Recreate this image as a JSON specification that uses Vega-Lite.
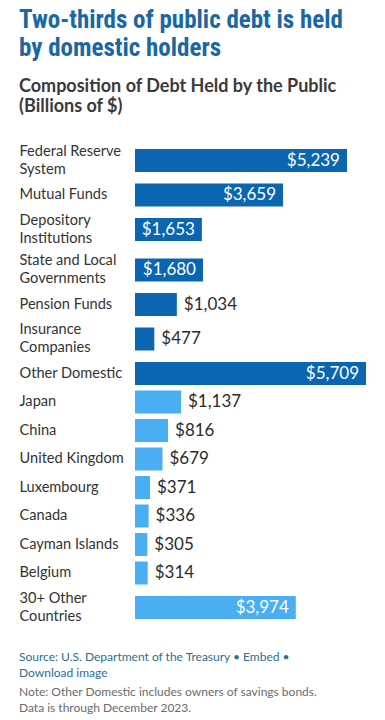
{
  "$schema": "https://vega.github.io/schema/vega-lite/v6.json",
  "padding": {"left": 19, "top": 8, "right": 0, "bottom": 0},
  "autosize": {"type": "pad"},
  "background": "white",
  "bounds": "flush",
  "spacing": 5.5,
  "title": {
    "text": ["Two-thirds of public debt is held", "by domestic holders"],
    "subtitle": ["Composition of Debt Held by the Public", "(Billions of $)"],
    "anchor": "start",
    "font": "Liberation Sans Narrow, Roboto Condensed, sans-serif",
    "fontSize": 25,
    "fontWeight": "bold",
    "lineHeight": 28,
    "color": "#1a67a3",
    "subtitleFont": "Lato",
    "subtitleFontSize": 18,
    "subtitleFontWeight": "bold",
    "subtitleColor": "#3a3a3a",
    "subtitleLineHeight": 20,
    "subtitlePadding": 17,
    "offset": 27
  },
  "data": {
    "values": [
      {"holder": "Federal Reserve System", "value": 5239, "group": "Domestic"},
      {"holder": "Mutual Funds", "value": 3659, "group": "Domestic"},
      {"holder": "Depository Institutions", "value": 1653, "group": "Domestic"},
      {"holder": "State and Local Governments", "value": 1680, "group": "Domestic"},
      {"holder": "Pension Funds", "value": 1034, "group": "Domestic"},
      {"holder": "Insurance Companies", "value": 477, "group": "Domestic"},
      {"holder": "Other Domestic", "value": 5709, "group": "Domestic"},
      {"holder": "Japan", "value": 1137, "group": "Foreign"},
      {"holder": "China", "value": 816, "group": "Foreign"},
      {"holder": "United Kingdom", "value": 679, "group": "Foreign"},
      {"holder": "Luxembourg", "value": 371, "group": "Foreign"},
      {"holder": "Canada", "value": 336, "group": "Foreign"},
      {"holder": "Cayman Islands", "value": 305, "group": "Foreign"},
      {"holder": "Belgium", "value": 314, "group": "Foreign"},
      {"holder": "30+ Other Countries", "value": 3974, "group": "Foreign"}
    ]
  },
  "resolve": {"scale": {"x": "independent", "y": "independent", "color": "independent"}},
  "vconcat": [
    {"width": 231, "height": 35, "transform": [{"filter": "datum.holder === 'Federal Reserve System'"}],
     "encoding": {"y": {"field": "holder", "type": "nominal", "scale": {"paddingInner": 0, "paddingOuter": 0}, "axis": {"labelOffset": -9, "labelExpr": "length(datum.label) > 16 ? [substring(datum.label, 0, lastindexof(datum.label, ' ')), substring(datum.label, lastindexof(datum.label, ' ') + 1)] : datum.label"}},
                  "x": {"field": "value", "type": "quantitative", "scale": {"domain": [0, 5709]}, "axis": null}},
     "layer": [
       {"mark": {"type": "bar", "height": 23}, "encoding": {"color": {"field": "group", "type": "nominal", "scale": {"domain": ["Domestic", "Foreign"], "range": ["#0a66b0", "#4aaff2"]}, "legend": null}}},
       {"transform": [{"filter": "datum.value >= 1500"}], "mark": {"type": "text", "style": "inlab", "color": "white"}, "encoding": {"text": {"field": "value", "type": "quantitative", "format": "$,.0f"}}},
       {"transform": [{"filter": "datum.value < 1500"}], "mark": {"type": "text", "style": "outlab", "color": "#2b2b2b"}, "encoding": {"text": {"field": "value", "type": "quantitative", "format": "$,.0f"}}}
     ]},
    {"width": 231, "height": 23, "transform": [{"filter": "datum.holder === 'Mutual Funds'"}],
     "encoding": {"y": {"field": "holder", "type": "nominal", "scale": {"paddingInner": 0, "paddingOuter": 0}, "axis": {"labelExpr": "length(datum.label) > 16 ? [substring(datum.label, 0, lastindexof(datum.label, ' ')), substring(datum.label, lastindexof(datum.label, ' ') + 1)] : datum.label"}},
                  "x": {"field": "value", "type": "quantitative", "scale": {"domain": [0, 5709]}, "axis": null}},
     "layer": [
       {"mark": {"type": "bar", "height": 23}, "encoding": {"color": {"field": "group", "type": "nominal", "scale": {"domain": ["Domestic", "Foreign"], "range": ["#0a66b0", "#4aaff2"]}, "legend": null}}},
       {"transform": [{"filter": "datum.value >= 1500"}], "mark": {"type": "text", "style": "inlab", "color": "white"}, "encoding": {"text": {"field": "value", "type": "quantitative", "format": "$,.0f"}}},
       {"transform": [{"filter": "datum.value < 1500"}], "mark": {"type": "text", "style": "outlab", "color": "#2b2b2b"}, "encoding": {"text": {"field": "value", "type": "quantitative", "format": "$,.0f"}}}
     ]},
    {"width": 231, "height": 35, "transform": [{"filter": "datum.holder === 'Depository Institutions'"}],
     "encoding": {"y": {"field": "holder", "type": "nominal", "scale": {"paddingInner": 0, "paddingOuter": 0}, "axis": {"labelOffset": -9, "labelExpr": "length(datum.label) > 16 ? [substring(datum.label, 0, lastindexof(datum.label, ' ')), substring(datum.label, lastindexof(datum.label, ' ') + 1)] : datum.label"}},
                  "x": {"field": "value", "type": "quantitative", "scale": {"domain": [0, 5709]}, "axis": null}},
     "layer": [
       {"mark": {"type": "bar", "height": 23}, "encoding": {"color": {"field": "group", "type": "nominal", "scale": {"domain": ["Domestic", "Foreign"], "range": ["#0a66b0", "#4aaff2"]}, "legend": null}}},
       {"transform": [{"filter": "datum.value >= 1500"}], "mark": {"type": "text", "style": "inlab", "color": "white"}, "encoding": {"text": {"field": "value", "type": "quantitative", "format": "$,.0f"}}},
       {"transform": [{"filter": "datum.value < 1500"}], "mark": {"type": "text", "style": "outlab", "color": "#2b2b2b"}, "encoding": {"text": {"field": "value", "type": "quantitative", "format": "$,.0f"}}}
     ]},
    {"width": 231, "height": 35, "transform": [{"filter": "datum.holder === 'State and Local Governments'"}],
     "encoding": {"y": {"field": "holder", "type": "nominal", "scale": {"paddingInner": 0, "paddingOuter": 0}, "axis": {"labelOffset": -9, "labelExpr": "length(datum.label) > 16 ? [substring(datum.label, 0, lastindexof(datum.label, ' ')), substring(datum.label, lastindexof(datum.label, ' ') + 1)] : datum.label"}},
                  "x": {"field": "value", "type": "quantitative", "scale": {"domain": [0, 5709]}, "axis": null}},
     "layer": [
       {"mark": {"type": "bar", "height": 23}, "encoding": {"color": {"field": "group", "type": "nominal", "scale": {"domain": ["Domestic", "Foreign"], "range": ["#0a66b0", "#4aaff2"]}, "legend": null}}},
       {"transform": [{"filter": "datum.value >= 1500"}], "mark": {"type": "text", "style": "inlab", "color": "white"}, "encoding": {"text": {"field": "value", "type": "quantitative", "format": "$,.0f"}}},
       {"transform": [{"filter": "datum.value < 1500"}], "mark": {"type": "text", "style": "outlab", "color": "#2b2b2b"}, "encoding": {"text": {"field": "value", "type": "quantitative", "format": "$,.0f"}}}
     ]},
    {"width": 231, "height": 23, "transform": [{"filter": "datum.holder === 'Pension Funds'"}],
     "encoding": {"y": {"field": "holder", "type": "nominal", "scale": {"paddingInner": 0, "paddingOuter": 0}, "axis": {"labelExpr": "length(datum.label) > 16 ? [substring(datum.label, 0, lastindexof(datum.label, ' ')), substring(datum.label, lastindexof(datum.label, ' ') + 1)] : datum.label"}},
                  "x": {"field": "value", "type": "quantitative", "scale": {"domain": [0, 5709]}, "axis": null}},
     "layer": [
       {"mark": {"type": "bar", "height": 23}, "encoding": {"color": {"field": "group", "type": "nominal", "scale": {"domain": ["Domestic", "Foreign"], "range": ["#0a66b0", "#4aaff2"]}, "legend": null}}},
       {"transform": [{"filter": "datum.value >= 1500"}], "mark": {"type": "text", "style": "inlab", "color": "white"}, "encoding": {"text": {"field": "value", "type": "quantitative", "format": "$,.0f"}}},
       {"transform": [{"filter": "datum.value < 1500"}], "mark": {"type": "text", "style": "outlab", "color": "#2b2b2b"}, "encoding": {"text": {"field": "value", "type": "quantitative", "format": "$,.0f"}}}
     ]},
    {"width": 231, "height": 35, "transform": [{"filter": "datum.holder === 'Insurance Companies'"}],
     "encoding": {"y": {"field": "holder", "type": "nominal", "scale": {"paddingInner": 0, "paddingOuter": 0}, "axis": {"labelOffset": -9, "labelExpr": "length(datum.label) > 16 ? [substring(datum.label, 0, lastindexof(datum.label, ' ')), substring(datum.label, lastindexof(datum.label, ' ') + 1)] : datum.label"}},
                  "x": {"field": "value", "type": "quantitative", "scale": {"domain": [0, 5709]}, "axis": null}},
     "layer": [
       {"mark": {"type": "bar", "height": 23}, "encoding": {"color": {"field": "group", "type": "nominal", "scale": {"domain": ["Domestic", "Foreign"], "range": ["#0a66b0", "#4aaff2"]}, "legend": null}}},
       {"transform": [{"filter": "datum.value >= 1500"}], "mark": {"type": "text", "style": "inlab", "color": "white"}, "encoding": {"text": {"field": "value", "type": "quantitative", "format": "$,.0f"}}},
       {"transform": [{"filter": "datum.value < 1500"}], "mark": {"type": "text", "style": "outlab", "color": "#2b2b2b"}, "encoding": {"text": {"field": "value", "type": "quantitative", "format": "$,.0f"}}}
     ]},
    {"width": 231, "height": 23, "transform": [{"filter": "datum.holder === 'Other Domestic'"}],
     "encoding": {"y": {"field": "holder", "type": "nominal", "scale": {"paddingInner": 0, "paddingOuter": 0}, "axis": {"labelExpr": "length(datum.label) > 16 ? [substring(datum.label, 0, lastindexof(datum.label, ' ')), substring(datum.label, lastindexof(datum.label, ' ') + 1)] : datum.label"}},
                  "x": {"field": "value", "type": "quantitative", "scale": {"domain": [0, 5709]}, "axis": null}},
     "layer": [
       {"mark": {"type": "bar", "height": 23}, "encoding": {"color": {"field": "group", "type": "nominal", "scale": {"domain": ["Domestic", "Foreign"], "range": ["#0a66b0", "#4aaff2"]}, "legend": null}}},
       {"transform": [{"filter": "datum.value >= 1500"}], "mark": {"type": "text", "style": "inlab", "color": "white"}, "encoding": {"text": {"field": "value", "type": "quantitative", "format": "$,.0f"}}},
       {"transform": [{"filter": "datum.value < 1500"}], "mark": {"type": "text", "style": "outlab", "color": "#2b2b2b"}, "encoding": {"text": {"field": "value", "type": "quantitative", "format": "$,.0f"}}}
     ]},
    {"width": 231, "height": 23, "transform": [{"filter": "datum.holder === 'Japan'"}],
     "encoding": {"y": {"field": "holder", "type": "nominal", "scale": {"paddingInner": 0, "paddingOuter": 0}, "axis": {"labelExpr": "length(datum.label) > 16 ? [substring(datum.label, 0, lastindexof(datum.label, ' ')), substring(datum.label, lastindexof(datum.label, ' ') + 1)] : datum.label"}},
                  "x": {"field": "value", "type": "quantitative", "scale": {"domain": [0, 5709]}, "axis": null}},
     "layer": [
       {"mark": {"type": "bar", "height": 23}, "encoding": {"color": {"field": "group", "type": "nominal", "scale": {"domain": ["Domestic", "Foreign"], "range": ["#0a66b0", "#4aaff2"]}, "legend": null}}},
       {"transform": [{"filter": "datum.value >= 1500"}], "mark": {"type": "text", "style": "inlab", "color": "white"}, "encoding": {"text": {"field": "value", "type": "quantitative", "format": "$,.0f"}}},
       {"transform": [{"filter": "datum.value < 1500"}], "mark": {"type": "text", "style": "outlab", "color": "#2b2b2b"}, "encoding": {"text": {"field": "value", "type": "quantitative", "format": "$,.0f"}}}
     ]},
    {"width": 231, "height": 23, "transform": [{"filter": "datum.holder === 'China'"}],
     "encoding": {"y": {"field": "holder", "type": "nominal", "scale": {"paddingInner": 0, "paddingOuter": 0}, "axis": {"labelExpr": "length(datum.label) > 16 ? [substring(datum.label, 0, lastindexof(datum.label, ' ')), substring(datum.label, lastindexof(datum.label, ' ') + 1)] : datum.label"}},
                  "x": {"field": "value", "type": "quantitative", "scale": {"domain": [0, 5709]}, "axis": null}},
     "layer": [
       {"mark": {"type": "bar", "height": 23}, "encoding": {"color": {"field": "group", "type": "nominal", "scale": {"domain": ["Domestic", "Foreign"], "range": ["#0a66b0", "#4aaff2"]}, "legend": null}}},
       {"transform": [{"filter": "datum.value >= 1500"}], "mark": {"type": "text", "style": "inlab", "color": "white"}, "encoding": {"text": {"field": "value", "type": "quantitative", "format": "$,.0f"}}},
       {"transform": [{"filter": "datum.value < 1500"}], "mark": {"type": "text", "style": "outlab", "color": "#2b2b2b"}, "encoding": {"text": {"field": "value", "type": "quantitative", "format": "$,.0f"}}}
     ]},
    {"width": 231, "height": 23, "transform": [{"filter": "datum.holder === 'United Kingdom'"}],
     "encoding": {"y": {"field": "holder", "type": "nominal", "scale": {"paddingInner": 0, "paddingOuter": 0}, "axis": {"labelExpr": "length(datum.label) > 16 ? [substring(datum.label, 0, lastindexof(datum.label, ' ')), substring(datum.label, lastindexof(datum.label, ' ') + 1)] : datum.label"}},
                  "x": {"field": "value", "type": "quantitative", "scale": {"domain": [0, 5709]}, "axis": null}},
     "layer": [
       {"mark": {"type": "bar", "height": 23}, "encoding": {"color": {"field": "group", "type": "nominal", "scale": {"domain": ["Domestic", "Foreign"], "range": ["#0a66b0", "#4aaff2"]}, "legend": null}}},
       {"transform": [{"filter": "datum.value >= 1500"}], "mark": {"type": "text", "style": "inlab", "color": "white"}, "encoding": {"text": {"field": "value", "type": "quantitative", "format": "$,.0f"}}},
       {"transform": [{"filter": "datum.value < 1500"}], "mark": {"type": "text", "style": "outlab", "color": "#2b2b2b"}, "encoding": {"text": {"field": "value", "type": "quantitative", "format": "$,.0f"}}}
     ]},
    {"width": 231, "height": 23, "transform": [{"filter": "datum.holder === 'Luxembourg'"}],
     "encoding": {"y": {"field": "holder", "type": "nominal", "scale": {"paddingInner": 0, "paddingOuter": 0}, "axis": {"labelExpr": "length(datum.label) > 16 ? [substring(datum.label, 0, lastindexof(datum.label, ' ')), substring(datum.label, lastindexof(datum.label, ' ') + 1)] : datum.label"}},
                  "x": {"field": "value", "type": "quantitative", "scale": {"domain": [0, 5709]}, "axis": null}},
     "layer": [
       {"mark": {"type": "bar", "height": 23}, "encoding": {"color": {"field": "group", "type": "nominal", "scale": {"domain": ["Domestic", "Foreign"], "range": ["#0a66b0", "#4aaff2"]}, "legend": null}}},
       {"transform": [{"filter": "datum.value >= 1500"}], "mark": {"type": "text", "style": "inlab", "color": "white"}, "encoding": {"text": {"field": "value", "type": "quantitative", "format": "$,.0f"}}},
       {"transform": [{"filter": "datum.value < 1500"}], "mark": {"type": "text", "style": "outlab", "color": "#2b2b2b"}, "encoding": {"text": {"field": "value", "type": "quantitative", "format": "$,.0f"}}}
     ]},
    {"width": 231, "height": 23, "transform": [{"filter": "datum.holder === 'Canada'"}],
     "encoding": {"y": {"field": "holder", "type": "nominal", "scale": {"paddingInner": 0, "paddingOuter": 0}, "axis": {"labelExpr": "length(datum.label) > 16 ? [substring(datum.label, 0, lastindexof(datum.label, ' ')), substring(datum.label, lastindexof(datum.label, ' ') + 1)] : datum.label"}},
                  "x": {"field": "value", "type": "quantitative", "scale": {"domain": [0, 5709]}, "axis": null}},
     "layer": [
       {"mark": {"type": "bar", "height": 23}, "encoding": {"color": {"field": "group", "type": "nominal", "scale": {"domain": ["Domestic", "Foreign"], "range": ["#0a66b0", "#4aaff2"]}, "legend": null}}},
       {"transform": [{"filter": "datum.value >= 1500"}], "mark": {"type": "text", "style": "inlab", "color": "white"}, "encoding": {"text": {"field": "value", "type": "quantitative", "format": "$,.0f"}}},
       {"transform": [{"filter": "datum.value < 1500"}], "mark": {"type": "text", "style": "outlab", "color": "#2b2b2b"}, "encoding": {"text": {"field": "value", "type": "quantitative", "format": "$,.0f"}}}
     ]},
    {"width": 231, "height": 23, "transform": [{"filter": "datum.holder === 'Cayman Islands'"}],
     "encoding": {"y": {"field": "holder", "type": "nominal", "scale": {"paddingInner": 0, "paddingOuter": 0}, "axis": {"labelExpr": "length(datum.label) > 16 ? [substring(datum.label, 0, lastindexof(datum.label, ' ')), substring(datum.label, lastindexof(datum.label, ' ') + 1)] : datum.label"}},
                  "x": {"field": "value", "type": "quantitative", "scale": {"domain": [0, 5709]}, "axis": null}},
     "layer": [
       {"mark": {"type": "bar", "height": 23}, "encoding": {"color": {"field": "group", "type": "nominal", "scale": {"domain": ["Domestic", "Foreign"], "range": ["#0a66b0", "#4aaff2"]}, "legend": null}}},
       {"transform": [{"filter": "datum.value >= 1500"}], "mark": {"type": "text", "style": "inlab", "color": "white"}, "encoding": {"text": {"field": "value", "type": "quantitative", "format": "$,.0f"}}},
       {"transform": [{"filter": "datum.value < 1500"}], "mark": {"type": "text", "style": "outlab", "color": "#2b2b2b"}, "encoding": {"text": {"field": "value", "type": "quantitative", "format": "$,.0f"}}}
     ]},
    {"width": 231, "height": 23, "transform": [{"filter": "datum.holder === 'Belgium'"}],
     "encoding": {"y": {"field": "holder", "type": "nominal", "scale": {"paddingInner": 0, "paddingOuter": 0}, "axis": {"labelExpr": "length(datum.label) > 16 ? [substring(datum.label, 0, lastindexof(datum.label, ' ')), substring(datum.label, lastindexof(datum.label, ' ') + 1)] : datum.label"}},
                  "x": {"field": "value", "type": "quantitative", "scale": {"domain": [0, 5709]}, "axis": null}},
     "layer": [
       {"mark": {"type": "bar", "height": 23}, "encoding": {"color": {"field": "group", "type": "nominal", "scale": {"domain": ["Domestic", "Foreign"], "range": ["#0a66b0", "#4aaff2"]}, "legend": null}}},
       {"transform": [{"filter": "datum.value >= 1500"}], "mark": {"type": "text", "style": "inlab", "color": "white"}, "encoding": {"text": {"field": "value", "type": "quantitative", "format": "$,.0f"}}},
       {"transform": [{"filter": "datum.value < 1500"}], "mark": {"type": "text", "style": "outlab", "color": "#2b2b2b"}, "encoding": {"text": {"field": "value", "type": "quantitative", "format": "$,.0f"}}}
     ]},
    {"width": 231, "height": 35, "transform": [{"filter": "datum.holder === '30+ Other Countries'"}],
     "title": {
       "text": ["Source: U.S. Department of the Treasury • Embed •", "Download image"],
       "subtitle": ["Note: Other Domestic includes owners of savings bonds.", "Data is through December 2023."],
       "orient": "bottom",
       "anchor": "start",
       "font": "Lato",
       "fontSize": 12,
       "fontWeight": "normal",
       "lineHeight": 15.5,
       "color": "#2a6e94",
       "subtitleFont": "Lato",
       "subtitleFontSize": 12,
       "subtitleLineHeight": 16,
       "subtitleColor": "#6b6b6b",
       "subtitlePadding": 7,
       "offset": 27
     },
     "encoding": {"y": {"field": "holder", "type": "nominal", "scale": {"paddingInner": 0, "paddingOuter": 0}, "axis": {"labelOffset": -9, "labelExpr": "length(datum.label) > 16 ? [substring(datum.label, 0, lastindexof(datum.label, ' ')), substring(datum.label, lastindexof(datum.label, ' ') + 1)] : datum.label"}},
                  "x": {"field": "value", "type": "quantitative", "scale": {"domain": [0, 5709]}, "axis": null}},
     "layer": [
       {"mark": {"type": "bar", "height": 23}, "encoding": {"color": {"field": "group", "type": "nominal", "scale": {"domain": ["Domestic", "Foreign"], "range": ["#0a66b0", "#4aaff2"]}, "legend": null}}},
       {"transform": [{"filter": "datum.value >= 1500"}], "mark": {"type": "text", "style": "inlab", "color": "white"}, "encoding": {"text": {"field": "value", "type": "quantitative", "format": "$,.0f"}}},
       {"transform": [{"filter": "datum.value < 1500"}], "mark": {"type": "text", "style": "outlab", "color": "#2b2b2b"}, "encoding": {"text": {"field": "value", "type": "quantitative", "format": "$,.0f"}}}
     ]}
  ],
  "config": {
    "view": {"stroke": null},
    "font": "Lato",
    "axisY": {
      "title": null,
      "domain": false,
      "ticks": false,
      "labelAlign": "left",
      "labelPadding": 116,
      "labelFont": "Lato",
      "labelFontSize": 14.6,
      "labelColor": "#333333",
      "labelLineHeight": 18,
      "labelLimit": 0,
      "labelBaseline": "middle"
    },
    "style": {
      "inlab": {"align": "right", "dx": -7, "baseline": "middle", "font": "Lato", "fontSize": 17},
      "outlab": {"align": "left", "dx": 7, "baseline": "middle", "font": "Lato", "fontSize": 17}
    }
  }
}
